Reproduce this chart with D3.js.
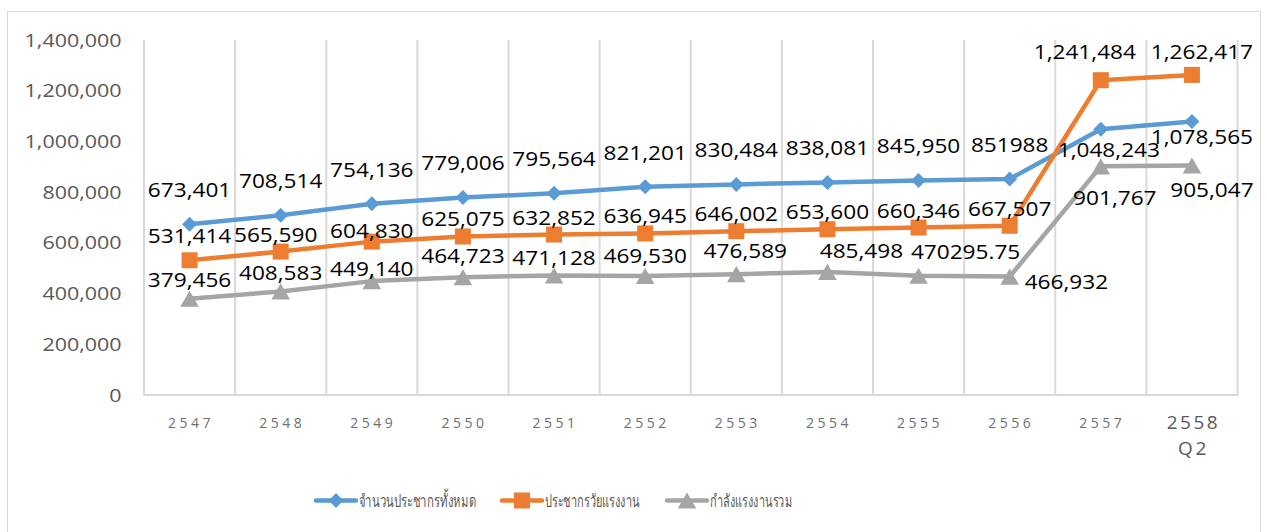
<!DOCTYPE html>
<html>
<head>
<meta charset="utf-8">
<script src="https://cdn.jsdelivr.net/npm/d3@7"></script>
<style>
  body { margin: 0; background: #fff; }
  svg { display: block; }
</style>
</head>
<body>
<div id="chart"></div>
<script>
// ---- data ----
var years = ["2547", "2548", "2549", "2550", "2551", "2552", "2553", "2554", "2555", "2556", "2557", "2558"];
var yearSub = ["", "", "", "", "", "", "", "", "", "", "", "Q2"];
var totalPop = [673401, 708514, 754136, 779006, 795564, 821201, 830484, 838081, 845950, 851988, 1048243, 1078565];
var workingAge = [531414, 565590, 604830, 625075, 632852, 636945, 646002, 653600, 660346, 667507, 1241484, 1262417];
var labourForce = [379456, 408583, 449140, 464723, 471128, 469530, 476589, 485498, 470295.75, 466932, 901767, 905047];
var seriesNames = ["จำนวนประชากรทั้งหมด", "ประชากรวัยแรงงาน", "กำลังแรงงานรวม"];
var yTicks = [0, 200000, 400000, 600000, 800000, 1000000, 1200000, 1400000];
// labels the source chart printed without thousands separators: [series, index]
var rawLabels = [[0, 9], [2, 8]];

// ---- layout ----
var width = 1267, height = 532;
var plotLeft = 144, plotRight = 1237.5, plotTop = 40, plotBottom = 395;
var colors = ["#5b9bd5", "#ed7d31", "#a5a5a5"];
var gridColor = "#d9d9d9";
var stretch = 1.16; // the original text is a little wide

var series = [totalPop, workingAge, labourForce].map(function(values, s) {
  return { name: seriesNames[s], color: colors[s], values: values, idx: s };
});

// label offsets from the point (baseline), per series, then a few nudges
var labelDy = [-27, -10, -11];
var nudges = {
  "1-0": { dy: -17 }, "1-1": { dx: -5 }, "1-2": { dy: -4 },
  "1-10": { dx: -16, dy: -21 }, "1-11": { dx: 10, dy: -16 },
  "0-10": { dx: 8, dy: 28 }, "0-11": { dx: 10, dy: 22 },
  "2-0": { dy: -12 }, "2-2": { dy: -5 }, "2-3": { dy: -14 }, "2-5": { dy: -13 }, "2-6": { dx: 9, dy: -16 },
  "2-7": { dx: 34, dy: -14 }, "2-8": { dx: 47, dy: -17 },
  "2-9": { dx: 15, dy: 12, anchor: "start" },
  "2-10": { dx: 14, dy: 39 }, "2-11": { dx: 20, dy: 31 }
};

var svg = d3.select("#chart").append("svg")
  .attr("width", width)
  .attr("height", height)
  .style("font-family", "'Open Sans', sans-serif");

svg.append("rect")
  .attr("x", 7.5).attr("y", 11.5)
  .attr("width", 1253).attr("height", 530)
  .attr("fill", "#fff")
  .attr("stroke", gridColor);

var x = d3.scaleBand().domain(years).range([plotLeft, plotRight]);
var y = d3.scaleLinear().domain([0, 1400000]).range([plotBottom, plotTop]);
var cx = function(i) { return x(years[i]) + x.bandwidth() / 2; };

// vertical gridlines on category boundaries
var bounds = years.map(function(d) { return x(d); }).concat([plotRight]);
svg.append("g").selectAll("line").data(bounds).enter()
  .append("line")
  .attr("x1", function(d) { return d; })
  .attr("x2", function(d) { return d; })
  .attr("y1", plotTop)
  .attr("y2", plotBottom)
  .attr("stroke", gridColor)
  .attr("stroke-width", 2);

svg.append("line")
  .attr("x1", plotLeft - 1).attr("x2", plotRight + 1)
  .attr("y1", plotBottom).attr("y2", plotBottom)
  .attr("stroke", gridColor)
  .attr("stroke-width", 2);

// y axis labels
svg.append("g").selectAll("text").data(yTicks).enter()
  .append("text")
  .attr("transform", function(d) { return "translate(121.5," + (y(d) + 6.5) + ") scale(" + stretch + ",1)"; })
  .attr("text-anchor", "end")
  .attr("font-size", 18.5)
  .attr("fill", "#595959")
  .text(d3.format(","));

// x axis labels
var last = years.length - 1;
var xLab = svg.append("g").selectAll("g").data(years).enter().append("g");
xLab.append("text")
  .attr("x", function(d) { return x(d) + x.bandwidth() / 2 + 1.5; })
  .attr("y", function(d, i) { return i === last ? 429 : 428; })
  .attr("text-anchor", "middle")
  .attr("font-size", function(d, i) { return i === last ? 19 : 14; })
  .attr("letter-spacing", function(d, i) { return i === last ? 2.5 : 3.5; })
  .attr("fill", function(d, i) { return i === last ? "#595959" : "#6f6f6f"; })
  .text(function(d) { return d; });
xLab.append("text")
  .attr("x", function(d) { return x(d) + x.bandwidth() / 2 + 1.5; })
  .attr("y", 455)
  .attr("text-anchor", "middle")
  .attr("font-size", 19)
  .attr("letter-spacing", 2.5)
  .attr("fill", "#595959")
  .text(function(d, i) { return yearSub[i]; });

// markers
function markerPath(s) {
  if (s === 0) return d3.symbol().type(d3.symbolSquare).size(112)();
  if (s === 1) return d3.symbol().type(d3.symbolSquare).size(256)();
  return d3.symbol().type(d3.symbolTriangle).size(150)();
}
function markerTransform(s, px, py) {
  if (s === 0) return "translate(" + px + "," + py + ") rotate(45)";
  if (s === 2) return "translate(" + px + "," + (py + 2.7) + ")";
  return "translate(" + px + "," + py + ")";
}

var line = d3.line()
  .x(function(d, i) { return cx(i); })
  .y(function(d) { return y(d); });

series.forEach(function(ser) {
  var g = svg.append("g").attr("class", "series s" + ser.idx);
  g.append("path")
    .attr("d", line(ser.values))
    .attr("fill", "none")
    .attr("stroke", ser.color)
    .attr("stroke-width", 4.5)
    .attr("stroke-linejoin", "round")
    .attr("stroke-linecap", "round");
  g.selectAll("path.mk").data(ser.values).enter()
    .append("path")
    .attr("class", "mk")
    .attr("d", markerPath(ser.idx))
    .attr("transform", function(d, i) { return markerTransform(ser.idx, cx(i), y(d)); })
    .attr("fill", ser.color);
});

// data labels
var fmt = d3.format(",");
function isRaw(s, i) {
  return rawLabels.some(function(r) { return r[0] === s && r[1] === i; });
}
series.forEach(function(ser) {
  svg.append("g").selectAll("text").data(ser.values).enter()
    .append("text")
    .attr("transform", function(d, i) {
      var n = nudges[ser.idx + "-" + i] || {};
      var dx = n.dx || 0;
      var dy = n.dy !== undefined ? n.dy : labelDy[ser.idx];
      return "translate(" + (cx(i) + dx) + "," + (y(d) + dy) + ") scale(" + stretch + ",1)";
    })
    .attr("text-anchor", function(d, i) {
      var n = nudges[ser.idx + "-" + i] || {};
      return n.anchor || "middle";
    })
    .attr("font-size", 19.5)
    .attr("fill", "#000")
    .text(function(d, i) { return isRaw(ser.idx, i) ? String(d) : fmt(d); });
});

// legend
var legendX = [316, 502, 667];
var legendTextW = [117, 95, 82];
var legend = svg.append("g").selectAll("g").data(series).enter()
  .append("g")
  .attr("transform", function(d, i) { return "translate(" + legendX[i] + ",500.5)"; });
legend.append("line")
  .attr("x1", 0).attr("x2", 40)
  .attr("stroke", function(d) { return d.color; })
  .attr("stroke-width", 4.5)
  .attr("stroke-linecap", "round");
legend.append("path")
  .attr("d", function(d) { return markerPath(d.idx); })
  .attr("transform", function(d) { return markerTransform(d.idx, 20, 0); })
  .attr("fill", function(d) { return d.color; });
legend.append("text")
  .attr("x", 43)
  .attr("y", 6)
  .attr("font-size", 17.5)
  .attr("fill", "#595959")
  .attr("textLength", function(d, i) { return legendTextW[i]; })
  .attr("lengthAdjust", "spacingAndGlyphs")
  .text(function(d) { return d.name; });
</script>
</body>
</html>
